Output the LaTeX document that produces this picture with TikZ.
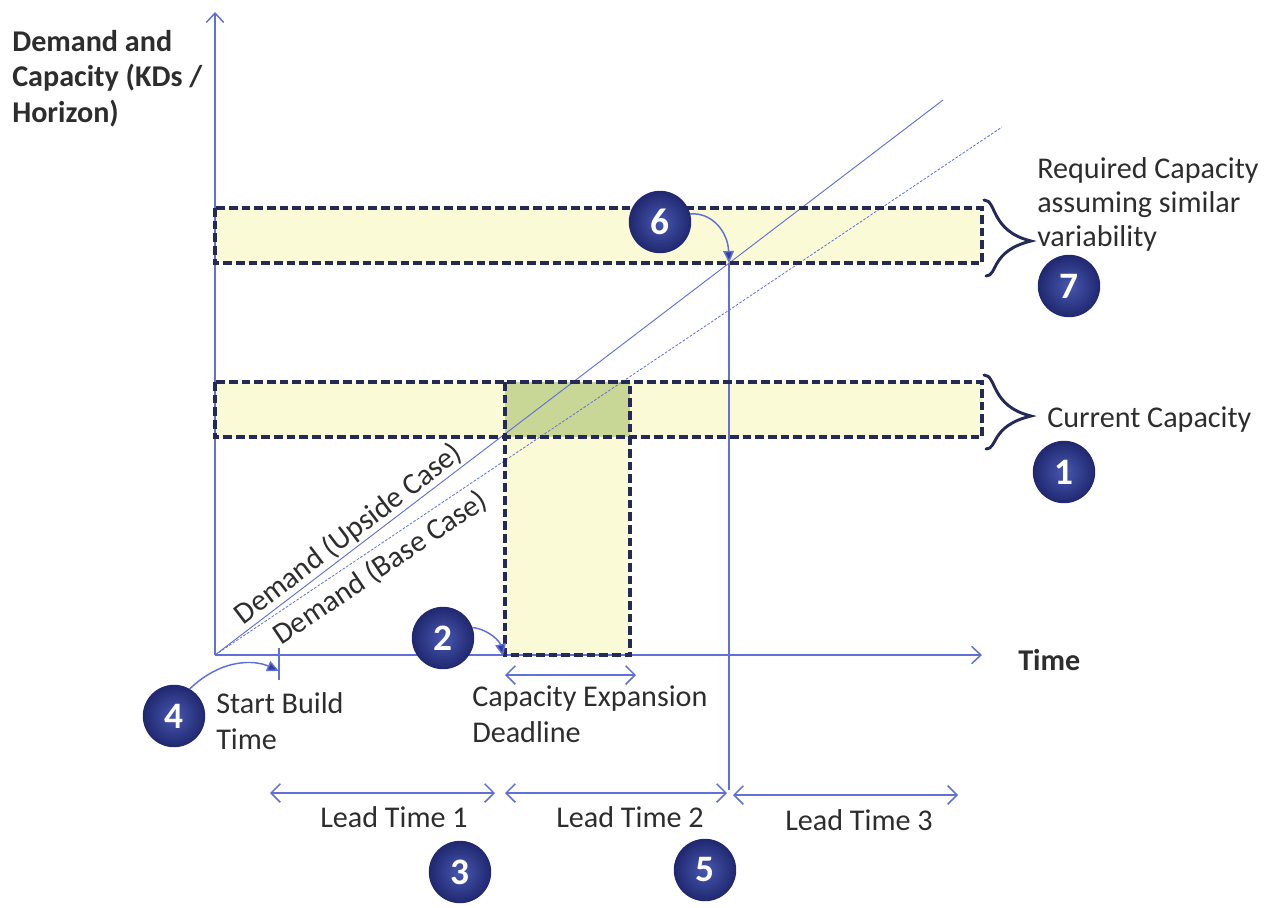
\documentclass[tikz,border=0pt]{standalone}
\usepackage{fontspec}
\setmainfont{Carlito}
\usetikzlibrary{arrows.meta}

\definecolor{axisblue}{RGB}{96,112,214}
\definecolor{boxnavy}{RGB}{36,41,88}
\definecolor{bandfill}{RGB}{250,250,214}
\definecolor{overlapfill}{RGB}{200,214,150}
\definecolor{badgeouter}{RGB}{32,40,112}
\definecolor{badgeinner}{RGB}{72,88,176}
\definecolor{labelgray}{RGB}{45,45,45}
\definecolor{tipblue}{RGB}{52,64,160}

\tikzset{
  axisline/.style={draw=axisblue, line width=1.1pt},
  openhead/.style={-{Straight Barb[length=7pt,width=13pt,line width=1.1pt]}},
  spanarrow/.style={draw=axisblue, line width=1.1pt,
    {Straight Barb[length=7pt,width=14pt,line width=1.1pt]}-{Straight Barb[length=7pt,width=14pt,line width=1.1pt]}},
  dashbox/.style={draw=boxnavy, line width=2.5pt, dash pattern=on 6.5pt off 3pt},
  capbrace/.style={draw=boxnavy, line width=2.2pt, line cap=round},
  badge/.style={circle, minimum size=46pt, inner sep=0pt, draw=badgeouter, line width=0.8pt,
    inner color=badgeinner, outer color=badgeouter, text=white,
    font=\fontsize{28}{28}\selectfont\bfseries},
  callout/.style={draw=axisblue, line width=1.1pt, -{Triangle[length=9pt,width=8pt,fill=tipblue]}},
  txt/.style={inner sep=0pt, text=labelgray, font=\fontsize{22.6}{27}\selectfont},
  boldtxt/.style={inner sep=0pt, text=labelgray, font=\fontsize{22.6}{26.5}\selectfont\bfseries},
  demand/.style={draw=axisblue, line width=0.7pt},
}

\begin{document}
\begin{tikzpicture}[x=0.75pt, y=-0.75pt]
\useasboundingbox (0,0) rectangle (1271,907);

% key points
\coordinate (O) at (215,655);
\coordinate (ytop) at (215,12);
\coordinate (xend) at (982,655);
\coordinate (upEnd) at (943,100);
\coordinate (baseEnd) at (1002,127);
\coordinate (req) at (729,263);
\coordinate (reqLow) at (729,790);
\coordinate (tickTop) at (279,648);
\coordinate (tickBot) at (279,680);

% capacity bands and expansion window (fills)
\fill[bandfill] (215,208) rectangle (982,263);
\fill[bandfill] (215,382) rectangle (982,437);
\fill[bandfill] (505,382) rectangle (630,655);
\fill[overlapfill] (505,382) rectangle (630,437);

% axes
\draw[axisline, openhead] (O) -- (ytop);
\draw[axisline, openhead] (O) -- (xend);
\draw[axisline] (tickTop) -- (tickBot);

% demand lines
\draw[demand] (O) -- (upEnd);
\draw[demand, line width=0.6pt, dash pattern=on 2pt off 1.2pt] (O) -- (baseEnd);
\path (O) -- (upEnd) node[txt, pos=0.196, sloped, above=1pt] (lblUp) {Demand (Upside Case)};
\path (O) -- (baseEnd) node[txt, pos=0.196, sloped, below=5pt] (lblBase) {Demand (Base Case)};

% required capacity marker
\draw[axisline, line width=0.9pt] (req) -- (reqLow);

% dashed outlines
\draw[dashbox] (215,208) rectangle (982,263);
\draw[dashbox] (215,382) rectangle (982,437);
\draw[dashbox] (505,382) rectangle (630,655);

% braces
\draw[capbrace] (984,200) .. controls (997,200) and (990,231) .. (1031,241)
                          .. controls (990,251) and (998,276) .. (986,276);
\draw[capbrace] (984,375) .. controls (997,375) and (990,406) .. (1031,416)
                          .. controls (990,426) and (998,449) .. (986,449);

% spans
\coordinate (l1a) at (270,793); \coordinate (l1b) at (495,793);
\coordinate (l2a) at (505,793); \coordinate (l2b) at (727,793);
\coordinate (l3a) at (733,795); \coordinate (l3b) at (958,795);
\coordinate (cea) at (505,675); \coordinate (ceb) at (636,675);
\draw[spanarrow] (l1a) -- (l1b);
\draw[spanarrow] (l2a) -- (l2b);
\draw[spanarrow] (l3a) -- (l3b);
\draw[spanarrow] (cea) -- (ceb);

% labels
\node[boldtxt, anchor=north west, align=left] (ylabel) at (12,30) {Demand and\\Capacity (KDs /\\Horizon)};
\node[boldtxt, anchor=west] (xlabel) at (1018,660) {Time};
\node[txt, font=\fontsize{22.6}{25.5}\selectfont, anchor=north west, align=left] (reqlbl) at (1037,157) {Required Capacity\\assuming similar\\variability};
\node[txt, anchor=base west] (curlbl) at (1047,427) {Current Capacity};
\node[txt, anchor=north west, align=left] (startlbl) at (216,692) {Start Build\\Time};
\node[txt, anchor=north west, align=left] (celbl) at (472,685) {Capacity Expansion\\Deadline};
\node[txt] (lt1) at (394,817) {Lead Time 1};
\node[txt] (lt2) at (630,817) {Lead Time 2};
\node[txt] (lt3) at (859,820) {Lead Time 3};

% numbered badges
\node[badge] (b1) at (1064,472) {1};
\node[badge] (b2) at (443,638) {2};
\node[badge] (b3) at (460,872) {3};
\node[badge] (b4) at (174,716) {4};
\node[badge] (b5) at (705,870) {5};
\node[badge] (b6) at (660,222) {6};
\node[badge] (b7) at (1069,286) {7};

% callout arrows
\draw[callout] (b4.60) .. controls (222,658) and (255,660) .. (tickTop |- 0,671);
\draw[callout] (b2.20) .. controls (490,630) and (500,642) .. (503,656);
\draw[callout] (b6.15) .. controls (712,212) and (728,232) .. (req);
\end{tikzpicture}
\end{document}
